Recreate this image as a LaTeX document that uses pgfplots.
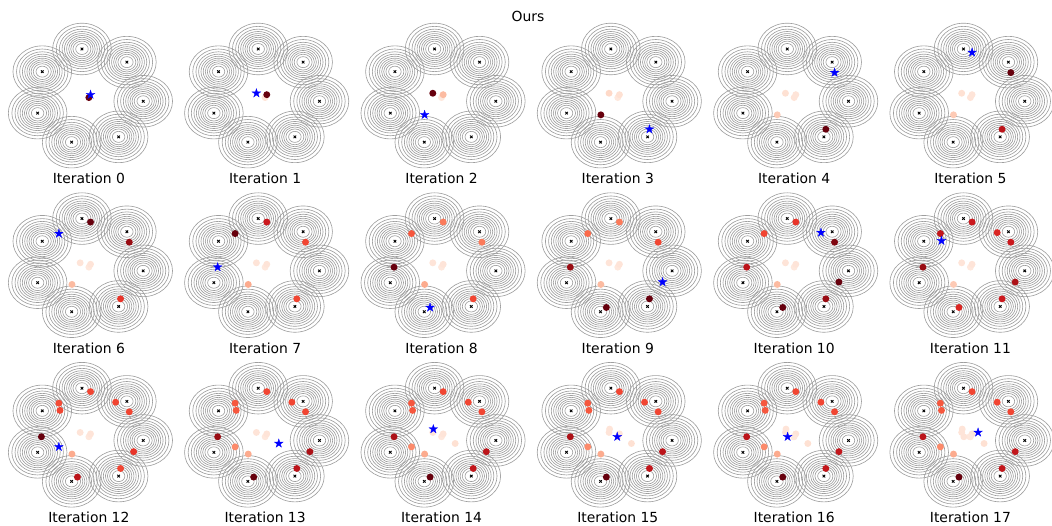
\documentclass[border=0pt]{standalone}
\usepackage{pgfplots}
\usepackage{pgfplotstable}
\usepackage{fontspec}
\setmainfont{DejaVu Sans}
\pgfplotsset{compat=1.18}

% filled five-point star, like matplotlib's '*'
\pgfdeclareplotmark{fstar}{%
  \pgfpathmoveto{\pgfqpointpolar{90}{\pgfplotmarksize}}%
  \pgfpathlineto{\pgfqpointpolar{126}{0.382\pgfplotmarksize}}%
  \pgfpathlineto{\pgfqpointpolar{162}{\pgfplotmarksize}}%
  \pgfpathlineto{\pgfqpointpolar{198}{0.382\pgfplotmarksize}}%
  \pgfpathlineto{\pgfqpointpolar{234}{\pgfplotmarksize}}%
  \pgfpathlineto{\pgfqpointpolar{270}{0.382\pgfplotmarksize}}%
  \pgfpathlineto{\pgfqpointpolar{306}{\pgfplotmarksize}}%
  \pgfpathlineto{\pgfqpointpolar{342}{0.382\pgfplotmarksize}}%
  \pgfpathlineto{\pgfqpointpolar{18}{\pgfplotmarksize}}%
  \pgfpathlineto{\pgfqpointpolar{54}{0.382\pgfplotmarksize}}%
  \pgfpathclose
  \pgfusepathqfillstroke}

\pgfplotsset{
  colormap={reds}{rgb255=(255,245,240) rgb255=(254,224,210) rgb255=(252,187,161)
    rgb255=(252,146,114) rgb255=(251,106,74) rgb255=(239,59,44)
    rgb255=(203,24,29) rgb255=(165,15,21) rgb255=(103,0,13)},
  panel/.style={x=39.3pt, y=34.56pt, xmin=-1.6, xmax=1.6, ymin=-1.6, ymax=1.6,
    axis lines=none, clip=false, anchor=center,
    point meta min=0, point meta max=1},
}

% mixture component means
\pgfplotstableread{
x y
-0.127 0.992
0.696 0.718
0.995 -0.097
0.545 -0.839
-0.316 -0.949
-0.939 -0.344
-0.854 0.520
}\centers

% evaluated points; column cK = colour value in iteration K
\pgfplotstableread{
x y c0 c1 c2 c3 c4 c5 c6 c7 c8 c9 c10 c11 c12 c13 c14 c15 c16 c17
0.00 -0.02 1 .1 .08 .08 .1 .1 .08 .08 .08 .08 .08 .08 .08 .08 .08 .08 .08 .08
0.03 0.04 0 1 .25 .12 .1 .1 .1 .1 .1 .1 .1 .1 .1 .1 .1 .1 .1 .1
-0.16 0.07 0 0 1 .15 .12 .12 .1 .1 .1 .1 .1 .1 .1 .1 .1 .1 .1 .1
-0.31 -0.38 0 0 0 1 .2 .2 .25 .3 .3 .25 .25 .2 .3 .3 .3 .3 .3 .3
0.58 -0.68 0 0 0 0 1 .8 .65 .6 .6 1 .9 .75 .6 .8 .78 .78 .78 .78
0.74 0.50 0 0 0 0 0 1 .9 .6 .45 .6 .95 .75 .6 .6 .6 .6 .6 .6
0.03 0.92 0 0 0 0 0 0 1 .75 .45 .45 .65 .75 .6 .6 .6 .6 .6 .6
-0.55 0.68 0 0 0 0 0 0 0 1 .55 .5 .6 .78 .58 .55 .55 .55 .55 .55
-0.87 -0.02 0 0 0 0 0 0 0 0 1 .9 .8 .9 1 .9 .85 .85 .8 .8
-0.21 -0.86 0 0 0 0 0 0 0 0 0 1 1 .7 .8 1 1 1 1 1
0.82 -0.33 0 0 0 0 0 0 0 0 0 0 1 .85 .65 .85 .8 .8 .78 .78
0.49 0.70 0 0 0 0 0 0 0 0 0 0 0 .7 .6 .6 .6 .6 .6 .6
-0.53 0.53 0 0 0 0 0 0 0 0 0 0 0 0 .6 .55 .55 .55 .55 .55
-0.55 -0.23 0 0 0 0 0 0 0 0 0 0 0 0 0 .4 .4 .4 .4 .4
0.25 -0.16 0 0 0 0 0 0 0 0 0 0 0 0 0 0 .12 .12 .12 .12
-0.15 0.14 0 0 0 0 0 0 0 0 0 0 0 0 0 0 0 .1 .1 .1
-0.01 -0.02 0 0 0 0 0 0 0 0 0 0 0 0 0 0 0 0 .08 .08
-0.12 -0.02 0 0 0 0 0 0 0 0 0 0 0 0 0 0 0 0 0 .1
}\pts

\newcommand{\rings}{%
  \pgfplotsinvokeforeach{3.97,5.7,7.1,8.4,9.7,11.1,12.6,14.3,16.3,18.56}{%
    \addplot[only marks, mark=o, mark size=##1pt,
      mark options={draw=black!38, line width=0.45pt, xscale=1.1375}] table {\centers};}}

% #1,#2 position, #3 iteration, #4 first point not yet shown, #5,#6 next query
\newcommand{\panel}[6]{%
  \begin{axis}[panel, at={(#1,#2)}]
    \rings
    \addplot[only marks, mark=x, mark size=1.3pt,
      mark options={draw=black, line width=0.65pt}] table {\centers};
    \addplot[scatter, only marks, mark=*, mark size=2.5pt, point meta=explicit,
      scatter/use mapped color={draw opacity=0, fill=mapped color},
      skip coords between index={#4}{40}] table[x=x, y=y, meta=c#3] {\pts};
    \addplot[only marks, mark=fstar, mark size=3.3pt,
      mark options={fill=blue, draw=blue, line width=0.2pt}] coordinates {(#5,#6)};
  \end{axis}
  \node[font=\fontsize{10}{12}\selectfont, inner sep=0pt, yshift=-59pt] at (#1,#2) {Iteration #3};}

\begin{document}
\begin{tikzpicture}
\panel{64.0pt}{-69.55pt}{0}{1}{0.03}{0.04}
\panel{190.9pt}{-69.55pt}{1}{2}{-0.16}{0.07}
\panel{317.9pt}{-69.55pt}{2}{3}{-0.31}{-0.38}
\panel{444.8pt}{-69.55pt}{3}{4}{0.58}{-0.68}
\panel{571.8pt}{-69.55pt}{4}{5}{0.74}{0.50}
\panel{698.7pt}{-69.55pt}{5}{6}{0.03}{0.92}
\panel{64.0pt}{-191.66pt}{6}{7}{-0.55}{0.68}
\panel{190.9pt}{-191.66pt}{7}{8}{-0.87}{-0.02}
\panel{317.9pt}{-191.66pt}{8}{9}{-0.21}{-0.86}
\panel{444.8pt}{-191.66pt}{9}{10}{0.82}{-0.33}
\panel{571.8pt}{-191.66pt}{10}{11}{0.49}{0.70}
\panel{698.7pt}{-191.66pt}{11}{12}{-0.53}{0.53}
\panel{64.0pt}{-313.78pt}{12}{13}{-0.55}{-0.23}
\panel{190.9pt}{-313.78pt}{13}{14}{0.25}{-0.16}
\panel{317.9pt}{-313.78pt}{14}{15}{-0.15}{0.14}
\panel{444.8pt}{-313.78pt}{15}{16}{-0.01}{-0.02}
\panel{571.8pt}{-313.78pt}{16}{17}{-0.12}{-0.02}
\panel{698.7pt}{-313.78pt}{17}{18}{0.14}{0.07}
\node[font=\fontsize{10}{12}\selectfont] at (380.2pt,-11.5pt) {Ours};
\pgfresetboundingbox
\path[use as bounding box] (0pt,0pt) rectangle (757.44pt,-378pt);
\end{tikzpicture}
\end{document}
